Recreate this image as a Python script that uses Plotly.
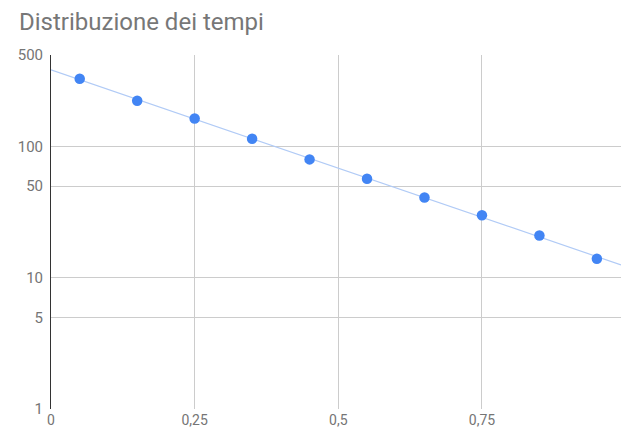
import numpy as np
import plotly.graph_objects as go

# Data
x_vals = [0.05, 0.15, 0.25, 0.35, 0.45, 0.55, 0.65, 0.75, 0.85, 0.95]
y_vals = [330, 224, 164, 115, 80, 57, 41, 30, 21, 14]
y_tickvals = [1, 5, 10, 50, 100, 500]
y_ticktext = ["1", "5", "10", "50", "100", "500"]
x_tickvals = [0, 0.25, 0.5, 0.75]
x_ticktext = ["0", "0,25", "0,5", "0,75"]
title_text = "Distribuzione dei tempi"

x_range = [0, 0.992]

# Exponential trendline (least squares on log values)
b, a = np.polyfit(np.array(x_vals), np.log(np.array(y_vals)), 1)
tx = np.linspace(x_range[0], x_range[1], 50)
ty = np.exp(a + b * tx)

fig = go.Figure()
fig.add_trace(go.Scatter(x=tx, y=ty, mode="lines",
                         line=dict(color="#b1cbf6", width=1.2),
                         hoverinfo="skip", showlegend=False))
fig.add_trace(go.Scatter(x=x_vals, y=y_vals, mode="markers",
                         marker=dict(color="#4285f4", size=10.5, line=dict(width=0)),
                         showlegend=False))

fig.update_layout(
    width=621, height=429,
    margin=dict(l=51, r=0, t=55, b=20, autoexpand=False),
    paper_bgcolor="white", plot_bgcolor="white",
    font=dict(family="Roboto", color="#757575", size=14),
    title=dict(text=title_text, x=19/621, xanchor="left", xref="container",
               y=1 - 22/429, yanchor="middle", yref="container",
               font=dict(family="Roboto", size=24, color="#777777")),
    showlegend=False,
)
fig.update_xaxes(range=x_range, tickvals=x_tickvals, ticktext=x_ticktext,
                 showgrid=True, gridcolor="#cccccc", gridwidth=1,
                 zeroline=False, showline=False, ticks="", ticklabelstandoff=1,
                 tickfont=dict(size=14, color="#757575"))
fig.update_yaxes(type="log", range=[0, np.log10(500)],
                 tickvals=y_tickvals, ticktext=y_ticktext,
                 showgrid=True, gridcolor="#cccccc", gridwidth=1,
                 zeroline=False, showline=True, linecolor="#333333", linewidth=1,
                 ticks="", ticklabelstandoff=4,
                 tickfont=dict(size=15, color="#757575"))

fig.write_html("out.html", config={"displayModeBar": False},
               post_script="document.body.style.margin='0';document.body.style.overflow='hidden';")
